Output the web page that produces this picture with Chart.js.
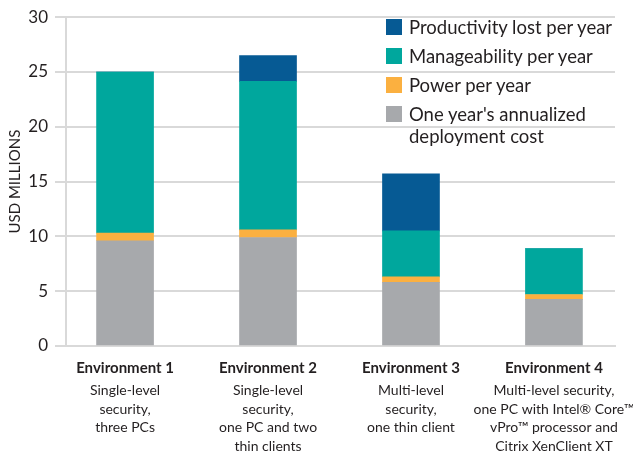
<!DOCTYPE html>
<html>
<head>
<meta charset="utf-8">
<script src="https://cdn.jsdelivr.net/npm/chart.js@4"></script>
<style>
  body { margin: 0; background: #fff; }
  #wrap { position: relative; width: 633px; height: 455px; }
  #legend { position: absolute; left: 386px; top: 16px; font-family: Lato, sans-serif; font-size: 18.5px; color: #231f20; }
  .item { display: flex; align-items: flex-start; margin-bottom: 7px; line-height: 22px; }
  .box { width: 16px; height: 16px; margin-top: 3px; margin-right: 7px; flex: none; }
</style>
</head>
<body>
<div id="wrap">
  <canvas id="costChart"></canvas>
  <div id="legend"></div>
</div>
<script>
// chart data
const categories = ['Environment 1', 'Environment 2', 'Environment 3', 'Environment 4'];
const descriptions = [
  ['Single-level', 'security,', 'three PCs'],
  ['Single-level', 'security,', 'one PC and two', 'thin clients'],
  ['Multi-level', 'security,', 'one thin client'],
  ['Multi-level security,', 'one PC with Intel® Core™', 'vPro™ processor and', 'Citrix XenClient XT']
];
const deploymentCost = [9.6, 9.9, 5.8, 4.25];
const powerPerYear = [0.7, 0.7, 0.5, 0.45];
const manageabilityPerYear = [14.7, 13.55, 4.2, 4.2];
const productivityLost = [0, 2.35, 5.2, 0];
const yTicks = [0, 5, 10, 15, 20, 25, 30];

const seriesNames = ["One year's annualized deployment cost", 'Power per year', 'Manageability per year', 'Productivity lost per year'];
const seriesColors = ['#a7a9ac', '#fbb040', '#00a79d', '#065a94'];
const seriesValues = [deploymentCost, powerPerYear, manageabilityPerYear, productivityLost];

Chart.defaults.font.family = 'Lato, sans-serif';
Chart.defaults.color = '#231f20';

const xMin = -0.413;
const xMax = 3.427;
const gridColor = '#d9d9d9';

const datasets = seriesValues.map((vals, i) => ({
  label: seriesNames[i],
  data: vals.map((v, idx) => ({ x: idx, y: v })),
  backgroundColor: seriesColors[i],
  borderWidth: 0,
  barThickness: 57
}));

// category ticks on a linear axis so bar centres can be spaced like the original
function categoryTicks(scale) {
  scale.ticks = categories.map((c, i) => ({ value: i }));
}

const ctx = document.getElementById('costChart').getContext('2d');
new Chart(ctx, {
  type: 'bar',
  data: { datasets: datasets },
  options: {
    responsive: true,
    maintainAspectRatio: false,
    animation: false,
    layout: { padding: { top: 15, right: 18, left: 0, bottom: 0 } },
    plugins: { legend: { display: false }, tooltip: { enabled: false } },
    scales: {
      x: {
        type: 'linear',
        position: 'bottom',
        min: xMin,
        max: xMax,
        offset: false,
        stacked: true,
        grid: { display: false, drawTicks: false, offset: false },
        border: { color: gridColor, width: 2 },
        afterBuildTicks: categoryTicks,
        ticks: {
          autoSkip: false,
          maxRotation: 0,
          padding: 13,
          font: { size: 15, weight: 'bold' },
          callback: (v) => categories[v]
        },
        afterFit: (s) => { s.height = 31; s.paddingLeft = 0; s.paddingRight = 0; }
      },
      x2: {
        type: 'linear',
        position: 'bottom',
        min: xMin,
        max: xMax,
        offset: false,
        grid: { display: false, drawTicks: false, offset: false },
        border: { display: false },
        afterBuildTicks: categoryTicks,
        ticks: {
          autoSkip: false,
          maxRotation: 0,
          padding: 4,
          font: { size: 14, lineHeight: 1.34 },
          callback: (v) => descriptions[v]
        },
        afterFit: (s) => { s.height = 78; s.paddingLeft = 0; s.paddingRight = 0; }
      },
      y: {
        stacked: true,
        min: 0,
        max: 30,
        afterBuildTicks: (s) => { s.ticks = yTicks.map(v => ({ value: v })); },
        grid: { color: gridColor, lineWidth: 2, tickLength: 11 },
        border: { color: gridColor, width: 2 },
        ticks: { padding: 7, font: { size: 17 } },
        title: { display: true, text: 'USD MILLIONS', font: { size: 15 }, padding: { top: 6, bottom: 0 } },
        afterFit: (s) => { s.width = 66; }
      }
    }
  }
});

// legend, top to bottom in reverse stack order
const legendEl = document.getElementById('legend');
const legendText = ['Productivity lost per year', 'Manageability per year', 'Power per year', "One year's annualized<br>deployment cost"];
[3, 2, 1, 0].forEach((idx, row) => {
  const item = document.createElement('div');
  item.className = 'item';
  item.innerHTML = '<span class="box" style="background:' + seriesColors[idx] + '"></span><span>' + legendText[row] + '</span>';
  legendEl.appendChild(item);
});
</script>
</body>
</html>
